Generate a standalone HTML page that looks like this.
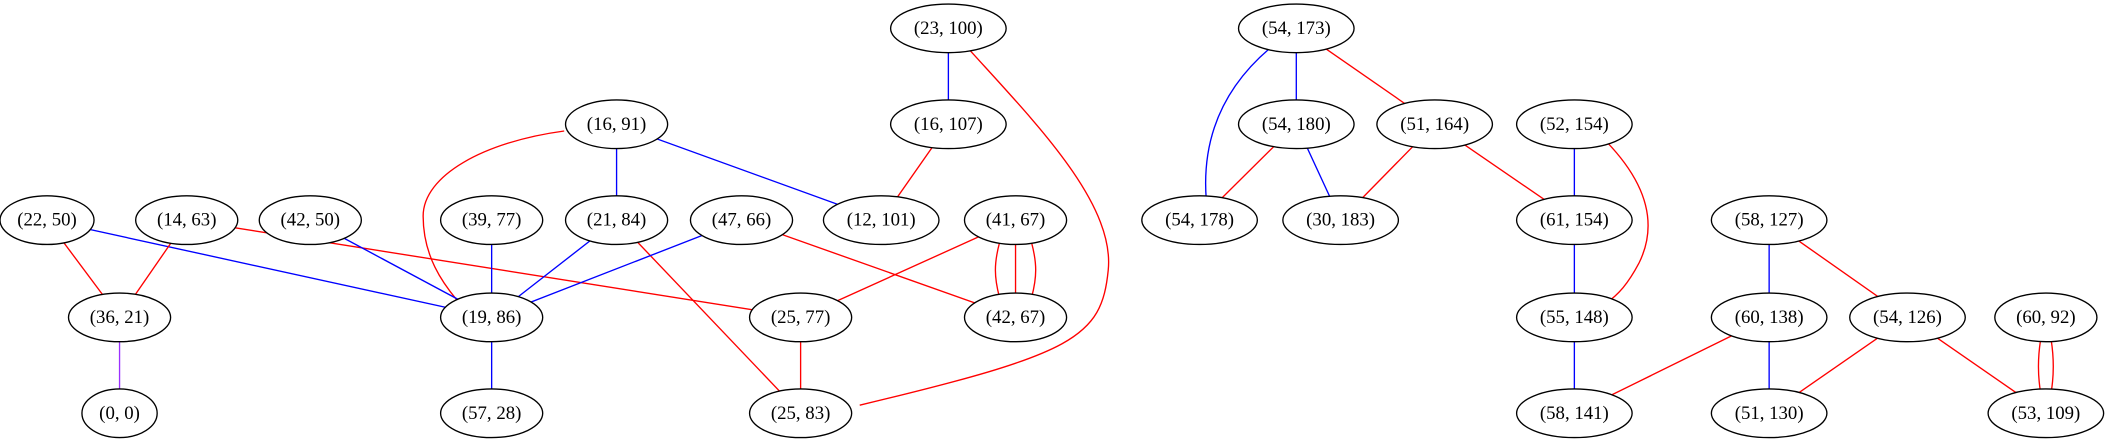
<!DOCTYPE html>
<html><head><meta charset="utf-8"><style>
html,body{margin:0;padding:0;background:#fff;}
svg{display:block;}
text{font-family:"Liberation Serif",serif;font-size:14px;text-anchor:middle;dominant-baseline:central;fill:#000;}
ellipse{fill:#fff;stroke:#000;stroke-width:1;}
path,line{fill:none;stroke-width:1;}
</style></head><body>
<svg width="2109" height="443" viewBox="0 0 1570 328" preserveAspectRatio="none">
<g stroke-width="1">
<line x1="706" y1="21" x2="706" y2="92" stroke="blue"/>
<path d="M720,35 C770,90 830,150 825,200 C820,250 800,262 640,300" stroke="red"/>
<line x1="706" y1="92" x2="656" y2="163" stroke="red"/>
<line x1="459" y1="92" x2="459" y2="163" stroke="blue"/>
<line x1="459" y1="92" x2="656" y2="163" stroke="blue"/>
<path d="M420,97 C360,105 315,130 315,160 C315,190 330,210 340,222" stroke="red"/>
<line x1="35" y1="163" x2="89" y2="235" stroke="red"/>
<line x1="35" y1="163" x2="366" y2="235" stroke="blue"/>
<line x1="139" y1="163" x2="89" y2="235" stroke="red"/>
<line x1="139" y1="163" x2="596" y2="235" stroke="red"/>
<line x1="231" y1="163" x2="366" y2="235" stroke="blue"/>
<line x1="366" y1="163" x2="366" y2="235" stroke="blue"/>
<line x1="459" y1="163" x2="366" y2="235" stroke="blue"/>
<line x1="459" y1="163" x2="596" y2="306" stroke="red"/>
<line x1="552" y1="163" x2="366" y2="235" stroke="blue"/>
<line x1="552" y1="163" x2="756" y2="235" stroke="red"/>
<line x1="756" y1="163" x2="596" y2="235" stroke="red"/>
<path d="M744,180 C740,195 740,205 744,220" stroke="red"/>
<line x1="756" y1="180" x2="756" y2="220" stroke="red"/>
<path d="M768,180 C772,195 772,205 768,220" stroke="red"/>
<line x1="89" y1="235" x2="89" y2="306" stroke="#9b30ff"/>
<line x1="366" y1="235" x2="366" y2="306" stroke="blue"/>
<line x1="596" y1="235" x2="596" y2="306" stroke="red"/>
<line x1="965" y1="21" x2="965" y2="92" stroke="blue"/>
<path d="M945,36 C905,70 895,110 898,148" stroke="blue"/>
<line x1="965" y1="21" x2="1068" y2="92" stroke="red"/>
<line x1="965" y1="92" x2="893" y2="163" stroke="red"/>
<line x1="965" y1="92" x2="998" y2="163" stroke="blue"/>
<line x1="1068" y1="92" x2="998" y2="163" stroke="red"/>
<line x1="1068" y1="92" x2="1172" y2="163" stroke="red"/>
<line x1="1172" y1="92" x2="1172" y2="163" stroke="blue"/>
<path d="M1196,105 C1225,135 1235,165 1220,195 C1212,210 1205,218 1195,225" stroke="red"/>
<line x1="1172" y1="163" x2="1172" y2="235" stroke="blue"/>
<line x1="1172" y1="235" x2="1172" y2="306" stroke="blue"/>
<line x1="1317" y1="163" x2="1317" y2="235" stroke="blue"/>
<line x1="1317" y1="163" x2="1420" y2="235" stroke="red"/>
<line x1="1317" y1="235" x2="1172" y2="306" stroke="red"/>
<line x1="1317" y1="235" x2="1317" y2="306" stroke="blue"/>
<line x1="1420" y1="235" x2="1317" y2="306" stroke="red"/>
<line x1="1420" y1="235" x2="1523" y2="306" stroke="red"/>
<path d="M1519,252 C1517,265 1517,278 1519,290" stroke="red"/>
<path d="M1527,252 C1529,265 1529,278 1527,290" stroke="red"/>
</g>
<g>
<ellipse cx="706" cy="21" rx="43" ry="18"/><text x="706" y="21">(23, 100)</text>
<ellipse cx="706" cy="92" rx="43" ry="18"/><text x="706" y="92">(16, 107)</text>
<ellipse cx="459" cy="92" rx="38" ry="18"/><text x="459" y="92">(16, 91)</text>
<ellipse cx="965" cy="21" rx="43" ry="18"/><text x="965" y="21">(54, 173)</text>
<ellipse cx="965" cy="92" rx="43" ry="18"/><text x="965" y="92">(54, 180)</text>
<ellipse cx="1068" cy="92" rx="43" ry="18"/><text x="1068" y="92">(51, 164)</text>
<ellipse cx="1172" cy="92" rx="43" ry="18"/><text x="1172" y="92">(52, 154)</text>
<ellipse cx="35" cy="163" rx="35" ry="18"/><text x="35" y="163">(22, 50)</text>
<ellipse cx="139" cy="163" rx="38" ry="18"/><text x="139" y="163">(14, 63)</text>
<ellipse cx="231" cy="163" rx="38" ry="18"/><text x="231" y="163">(42, 50)</text>
<ellipse cx="366" cy="163" rx="38" ry="18"/><text x="366" y="163">(39, 77)</text>
<ellipse cx="459" cy="163" rx="38" ry="18"/><text x="459" y="163">(21, 84)</text>
<ellipse cx="552" cy="163" rx="38" ry="18"/><text x="552" y="163">(47, 66)</text>
<ellipse cx="656" cy="163" rx="43" ry="18"/><text x="656" y="163">(12, 101)</text>
<ellipse cx="756" cy="163" rx="38" ry="18"/><text x="756" y="163">(41, 67)</text>
<ellipse cx="893" cy="163" rx="43" ry="18"/><text x="893" y="163">(54, 178)</text>
<ellipse cx="998" cy="163" rx="43" ry="18"/><text x="998" y="163">(30, 183)</text>
<ellipse cx="1172" cy="163" rx="43" ry="18"/><text x="1172" y="163">(61, 154)</text>
<ellipse cx="1317" cy="163" rx="43" ry="18"/><text x="1317" y="163">(58, 127)</text>
<ellipse cx="89" cy="235" rx="38" ry="18"/><text x="89" y="235">(36, 21)</text>
<ellipse cx="366" cy="235" rx="38" ry="18"/><text x="366" y="235">(19, 86)</text>
<ellipse cx="596" cy="235" rx="38" ry="18"/><text x="596" y="235">(25, 77)</text>
<ellipse cx="756" cy="235" rx="38" ry="18"/><text x="756" y="235">(42, 67)</text>
<ellipse cx="1172" cy="235" rx="43" ry="18"/><text x="1172" y="235">(55, 148)</text>
<ellipse cx="1317" cy="235" rx="43" ry="18"/><text x="1317" y="235">(60, 138)</text>
<ellipse cx="1420" cy="235" rx="43" ry="18"/><text x="1420" y="235">(54, 126)</text>
<ellipse cx="1523" cy="235" rx="38" ry="18"/><text x="1523" y="235">(60, 92)</text>
<ellipse cx="89" cy="306" rx="28" ry="18"/><text x="89" y="306">(0, 0)</text>
<ellipse cx="366" cy="306" rx="38" ry="18"/><text x="366" y="306">(57, 28)</text>
<ellipse cx="596" cy="306" rx="38" ry="18"/><text x="596" y="306">(25, 83)</text>
<ellipse cx="1172" cy="306" rx="43" ry="18"/><text x="1172" y="306">(58, 141)</text>
<ellipse cx="1317" cy="306" rx="43" ry="18"/><text x="1317" y="306">(51, 130)</text>
<ellipse cx="1523" cy="306" rx="43" ry="18"/><text x="1523" y="306">(53, 109)</text>
</g>
</svg>
</body></html>
